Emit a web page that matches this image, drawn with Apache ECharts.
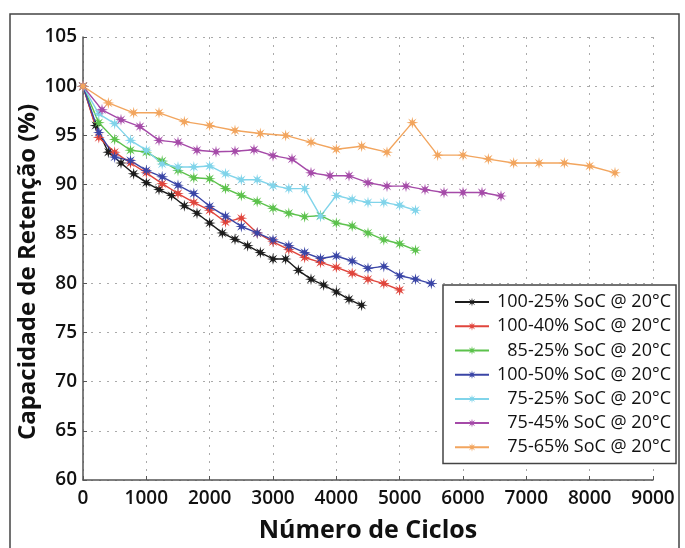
<!DOCTYPE html>
<html>
<head>
<meta charset="utf-8">
<script src="https://cdn.jsdelivr.net/npm/echarts@6/dist/echarts.min.js"></script>
<style>
  html, body { margin: 0; padding: 0; background: #fff; }
  #chart { width: 685px; height: 548px; }
</style>
</head>
<body>
<div id="chart"></div>
<script>
// ciclos (x) e capacidade (%) de cada ensaio
const names = ['100-25% SoC @ 20°C', '100-40% SoC @ 20°C', '85-25% SoC @ 20°C', '100-50% SoC @ 20°C',
  '75-25% SoC @ 20°C', '75-45% SoC @ 20°C', '75-65% SoC @ 20°C'];
const colors = ['#1c1c1c', '#e0453c', '#5cc24c', '#3a45a6', '#80d4ea', '#a54aa8', '#f2a55e'];

const xBlack = [0, 200, 400, 600, 800, 1000, 1200, 1400, 1600, 1800, 2000, 2200, 2400, 2600, 2800, 3000, 3200, 3400, 3600, 3800, 4000, 4200, 4400];
const yBlack = [100, 96.0, 93.3, 92.2, 91.1, 90.2, 89.5, 88.9, 87.85, 87.1, 86.1, 85.1, 84.45, 83.8, 83.1, 82.45, 82.45, 81.3, 80.4, 79.8, 79.1, 78.35, 77.75];

const xRed = [0, 250, 500, 750, 1000, 1250, 1500, 1750, 2000, 2250, 2500, 2750, 3000, 3250, 3500, 3750, 4000, 4250, 4500, 4750, 5000];
const yRed = [100, 94.8, 93.3, 92.2, 91.2, 90.1, 89.1, 88.2, 87.4, 86.2, 86.6, 85.1, 84.2, 83.4, 82.6, 82.1, 81.6, 81.0, 80.4, 79.95, 79.3];

const xGreen = [0, 250, 500, 750, 1000, 1250, 1500, 1750, 2000, 2250, 2500, 2750, 3000, 3250, 3500, 3750, 4000, 4250, 4500, 4750, 5000, 5250];
const yGreen = [100, 96.3, 94.6, 93.5, 93.3, 92.4, 91.45, 90.7, 90.6, 89.6, 88.9, 88.3, 87.6, 87.1, 86.75, 86.85, 86.1, 85.8, 85.1, 84.4, 84.0, 83.35];

const xBlue = [0, 250, 500, 750, 1000, 1250, 1500, 1750, 2000, 2250, 2500, 2750, 3000, 3250, 3500, 3750, 4000, 4250, 4500, 4750, 5000, 5250, 5500];
const yBlue = [100, 95.3, 92.8, 92.45, 91.45, 90.8, 89.95, 89.1, 87.8, 86.8, 85.75, 85.1, 84.4, 83.8, 83.1, 82.5, 82.75, 82.25, 81.5, 81.7, 80.75, 80.4, 79.95];

const xCyan = [0, 250, 500, 750, 1000, 1250, 1500, 1750, 2000, 2250, 2500, 2750, 3000, 3250, 3500, 3750, 4000, 4250, 4500, 4750, 5000, 5250];
const yCyan = [100, 97.2, 96.2, 94.5, 93.5, 92.1, 91.8, 91.8, 91.9, 91.1, 90.5, 90.5, 89.9, 89.6, 89.6, 86.8, 88.9, 88.5, 88.2, 88.2, 87.9, 87.4];

const xMagenta = [0, 300, 600, 900, 1200, 1500, 1800, 2100, 2400, 2700, 3000, 3300, 3600, 3900, 4200, 4500, 4800, 5100, 5400, 5700, 6000, 6300, 6600];
const yMagenta = [100, 97.6, 96.6, 95.9, 94.5, 94.3, 93.5, 93.35, 93.4, 93.55, 92.95, 92.6, 91.2, 90.9, 90.9, 90.2, 89.85, 89.85, 89.5, 89.2, 89.2, 89.2, 88.85];

const xOrange = [0, 400, 800, 1200, 1600, 2000, 2400, 2800, 3200, 3600, 4000, 4400, 4800, 5200, 5600, 6000, 6400, 6800, 7200, 7600, 8000, 8400];
const yOrange = [100, 98.3, 97.3, 97.3, 96.4, 96.0, 95.5, 95.2, 95.0, 94.3, 93.6, 93.9, 93.3, 96.3, 93.0, 93.0, 92.6, 92.2, 92.2, 92.2, 91.9, 91.2];

const xs = [xBlack, xRed, xGreen, xBlue, xCyan, xMagenta, xOrange];
const ys = [yBlack, yRed, yGreen, yBlue, yCyan, yMagenta, yOrange];

// marcador tipo asterisco (estrela de 8 pontas)
const star = 'path://M20,10L13.3,11.4L17.07,17.07L11.4,13.3L10,20L8.6,13.3L2.93,17.07L6.7,11.4L0,10L6.7,8.6L2.93,2.93L8.6,6.7L10,0L11.4,6.7L17.07,2.93L13.3,8.6Z';

const font = '"Open Sans", "DejaVu Sans", sans-serif';

let series = names.map((n, i) => ({
    name: n,
    type: 'line',
    data: xs[i].map((x, j) => [x, ys[i][j]]),
    symbol: star,
    symbolSize: 12,
    color: colors[i],
    lineStyle: { width: 1.4, color: colors[i] },
    itemStyle: { color: colors[i] },
    animation: false
}));

let myChart = echarts.init(document.getElementById('chart'));
myChart.setOption({
    backgroundColor: '#fff',
    textStyle: { fontFamily: font },
    graphic: [{
        type: 'rect',
        shape: { x: 10, y: 14, width: 669, height: 560 },
        style: { fill: 'none', stroke: '#444', lineWidth: 1.5 },
        z: -1
    }, {
        // titulo do eixo y
        type: 'text',
        x: 28, y: 272,
        rotation: Math.PI / 2,
        style: {
            text: 'Capacidade de Retenção (%)',
            font: 'bold 24px ' + font,
            fill: '#111',
            align: 'center',
            verticalAlign: 'middle'
        }
    }],
    grid: { left: 83, right: 32, top: 37, bottom: 63 },
    xAxis: {
        type: 'value',
        min: 0, max: 9000, interval: 1000,
        name: 'Número de Ciclos',
        nameLocation: 'middle',
        nameGap: 38,
        nameTextStyle: { fontSize: 25, fontWeight: 'bold', color: '#111', fontFamily: font },
        axisLine: { show: true, lineStyle: { color: '#555', width: 1.5 } },
        axisTick: { show: true, inside: true, length: 4, lineStyle: { color: '#555' } },
        axisLabel: { fontSize: 19, fontWeight: 600, color: '#111', margin: 9, fontFamily: font, formatter: v => String(v) },
        splitLine: { show: true, lineStyle: { color: '#aaa', type: [2, 6], width: 1 } }
    },
    yAxis: {
        type: 'value',
        min: 60, max: 105, interval: 5,
        axisLine: { show: true, lineStyle: { color: '#555', width: 1.5 } },
        axisTick: { show: true, inside: true, length: 4, lineStyle: { color: '#555' } },
        axisLabel: { fontSize: 19, fontWeight: 600, color: '#111', margin: 6, fontFamily: font },
        splitLine: { show: true, lineStyle: { color: '#aaa', type: [2, 6], width: 1 } }
    },
    legend: {
        orient: 'vertical',
        left: 443,
        top: 285,
        padding: [5, 5, 4, 11],
        itemWidth: 34,
        itemHeight: 11,
        itemGap: 0,
        backgroundColor: '#fff',
        borderColor: '#444',
        borderWidth: 1.5,
        data: names,
        formatter: n => '{t|' + n + '}',
        textStyle: {
            fontSize: 18,
            lineHeight: 24.2,
            rich: {
                t: { width: 177, align: 'right', fontSize: 18, lineHeight: 24.2, color: '#111', fontFamily: font }
            }
        }
    },
    series: series
});
</script>
</body>
</html>
